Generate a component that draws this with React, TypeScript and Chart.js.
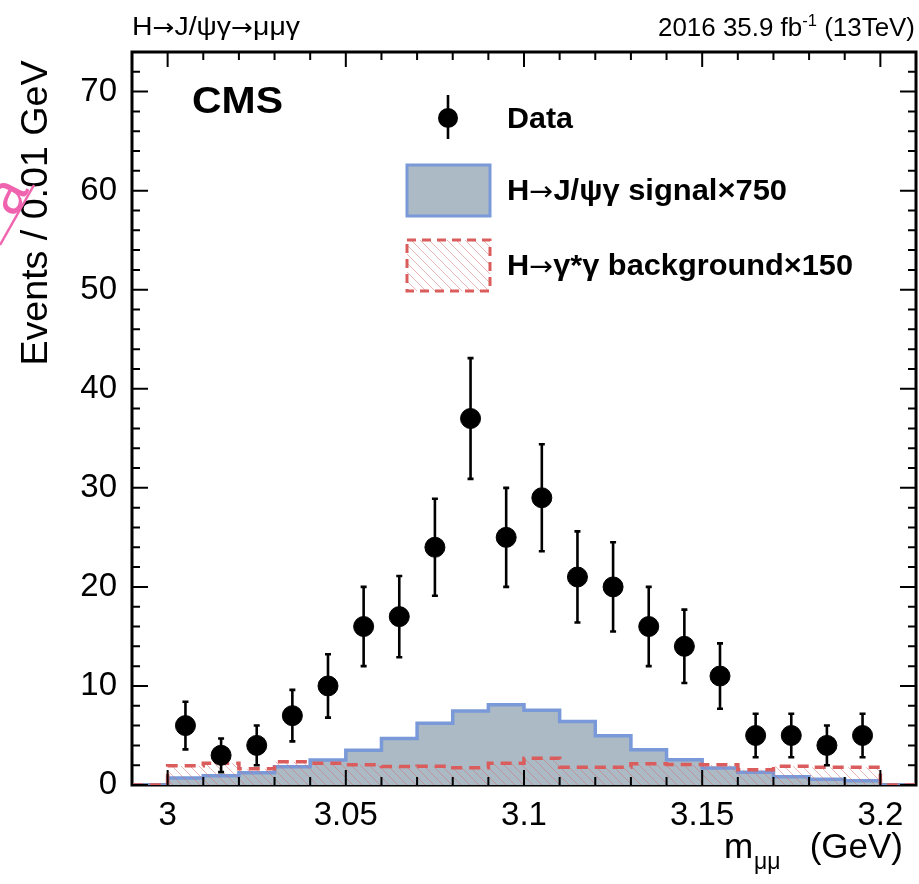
import React, { useEffect, useRef } from 'react';
import { Chart, registerables } from 'chart.js';

Chart.register(...registerables);

// ---------- data ----------
const binEdges = [2.99, 3.0, 3.01, 3.02, 3.03, 3.04, 3.05, 3.06, 3.07, 3.08, 3.09, 3.1, 3.11, 3.12, 3.13, 3.14, 3.15, 3.16, 3.17, 3.18, 3.19, 3.2, 3.21];
const signalValues = [0, 0.7, 0.94, 1.24, 1.85, 2.52, 3.52, 4.7, 6.24, 7.48, 8.09, 7.55, 6.41, 4.97, 3.56, 2.55, 1.71, 1.28, 0.84, 0.57, 0.44, 0];
const backgroundValues = [0, 1.95, 2.2, 1.65, 2.35, 2.2, 2.04, 1.87, 1.9, 1.74, 2.2, 2.7, 1.8, 1.8, 2.14, 2.07, 2.04, 1.53, 1.9, 1.8, 1.8, 0];
const dataX = [3.005, 3.015, 3.025, 3.035, 3.045, 3.055, 3.065, 3.075, 3.085, 3.095, 3.105, 3.115, 3.125, 3.135, 3.145, 3.155, 3.165, 3.175, 3.185, 3.195];
const dataY = [6, 3, 4, 7, 10, 16, 17, 24, 37, 25, 29, 21, 20, 16, 14, 11, 5, 5, 4, 5];
const dataErr = [2.4, 1.7, 2.0, 2.6, 3.2, 4.0, 4.1, 4.9, 6.1, 5.0, 5.4, 4.6, 4.5, 4.0, 3.7, 3.3, 2.2, 2.2, 2.0, 2.2];
const xTickValues = [3.0, 3.05, 3.1, 3.15, 3.2];
const xTickLabels = ['3', '3.05', '3.1', '3.15', '3.2'];
const yTickValues = [0, 10, 20, 30, 40, 50, 60, 70];
const yTickLabels = ['0', '10', '20', '30', '40', '50', '60', '70'];

const FONT = '"Liberation Sans", Arial, Helvetica, sans-serif';
const ARROW_FONT = '"DejaVu Sans", "Liberation Sans", sans-serif';
const SIGNAL_FILL = 'rgb(171,186,197)';
const SIGNAL_LINE = 'rgb(122,153,216)';
const BKG_LINE = 'rgb(218,92,92)';

function stepPoints(values: number[]) {
  const pts: { x: number; y: number }[] = [];
  values.forEach((v, i) => {
    pts.push({ x: binEdges[i], y: v });
    pts.push({ x: binEdges[i + 1], y: v });
  });
  return pts;
}

function makeHatch(): CanvasPattern | string {
  const c = document.createElement('canvas');
  const s = 9;
  c.width = s;
  c.height = s;
  const g = c.getContext('2d');
  if (!g) return 'rgba(0,0,0,0)';
  g.strokeStyle = 'rgba(210,110,110,0.5)';
  g.lineWidth = 1;
  g.beginPath();
  g.moveTo(-1, -1);
  g.lineTo(s + 1, s + 1);
  g.moveTo(-1, s - 1);
  g.lineTo(1, s + 1);
  g.moveTo(s - 1, -1);
  g.lineTo(s + 1, 1);
  g.stroke();
  const p = g.createPattern(c, 'repeat');
  return p || 'rgba(0,0,0,0)';
}

function fitText(ctx: CanvasRenderingContext2D, text: string, x: number, y: number, width: number, font: string, align: CanvasTextAlign = 'left') {
  ctx.save();
  ctx.font = font;
  const w = ctx.measureText(text).width;
  ctx.translate(x, y);
  ctx.scale(width / w, 1);
  ctx.textAlign = align;
  ctx.textBaseline = 'alphabetic';
  ctx.fillText(text, 0, 0);
  ctx.restore();
}

type Seg = { t: string; f: string; dy?: number };

function richText(ctx: CanvasRenderingContext2D, segs: Seg[], x: number, y: number, width: number) {
  ctx.save();
  let total = 0;
  const ws = segs.map((s) => {
    ctx.font = s.f;
    const w = ctx.measureText(s.t).width;
    total += w;
    return w;
  });
  ctx.translate(x, y);
  ctx.scale(width / total, 1);
  ctx.textAlign = 'left';
  ctx.textBaseline = 'alphabetic';
  let cx = 0;
  segs.forEach((s, i) => {
    ctx.font = s.f;
    ctx.fillText(s.t, cx, s.dy || 0);
    cx += ws[i];
  });
  ctx.restore();
}

export default function App() {
  const ref = useRef<HTMLCanvasElement | null>(null);

  useEffect(() => {
    const canvas = ref.current;
    if (!canvas) return;
    const hatch = makeHatch();

    const plugin = {
      id: 'cmsDecor',
      beforeDatasetsDraw(chart: any) {
        const { ctx, chartArea: a } = chart;
        ctx.save();
        ctx.strokeStyle = '#000';
        ctx.lineWidth = 3;
        ctx.strokeRect(a.left, a.top, a.right - a.left, a.bottom - a.top);
        ctx.restore();
      },
      beforeDatasetDraw(chart: any, args: any) {
        if (args.index !== 0) return;
        const { ctx } = chart;
        const xs = chart.scales.x;
        const ys = chart.scales.y;
        ctx.save();
        ctx.strokeStyle = '#000';
        ctx.lineWidth = 2.6;
        dataX.forEach((xv, i) => {
          const px = xs.getPixelForValue(xv);
          const lo = ys.getPixelForValue(dataY[i] - dataErr[i]);
          const hi = ys.getPixelForValue(dataY[i] + dataErr[i]);
          ctx.beginPath();
          ctx.moveTo(px, lo);
          ctx.lineTo(px, hi);
          ctx.moveTo(px - 3, lo);
          ctx.lineTo(px + 3, lo);
          ctx.moveTo(px - 3, hi);
          ctx.lineTo(px + 3, hi);
          ctx.stroke();
        });
        ctx.restore();
      },
      afterDatasetsDraw(chart: any) {
        const { ctx, chartArea: a } = chart;
        const xs = chart.scales.x;
        const ys = chart.scales.y;
        ctx.save();
        ctx.strokeStyle = '#000';
        ctx.lineWidth = 2;
        ctx.beginPath();
        for (let i = 0; i <= 22; i++) {
          const v = 2.99 + i * 0.01;
          const major = Math.round(v * 100) % 5 === 0;
          const len = major ? 15 : 8;
          const px = xs.getPixelForValue(v);
          ctx.moveTo(px, a.bottom);
          ctx.lineTo(px, a.bottom - len);
          ctx.moveTo(px, a.top);
          ctx.lineTo(px, a.top + len);
        }
        for (let v = 0; v <= 74; v += 2) {
          const major = v % 10 === 0;
          const len = major ? 16 : 8;
          const py = ys.getPixelForValue(v);
          ctx.moveTo(a.left, py);
          ctx.lineTo(a.left + len, py);
          ctx.moveTo(a.right, py);
          ctx.lineTo(a.right - len, py);
        }
        ctx.stroke();
        ctx.restore();
      },
      afterDraw(chart: any) {
        const { ctx } = chart;
        ctx.save();
        ctx.fillStyle = '#000';

        // top labels
        const tf = `25px ${FONT}`;
        const ta = `23px ${ARROW_FONT}`;
        richText(
          ctx,
          [
            { t: 'H', f: tf },
            { t: '\u2192', f: ta },
            { t: 'J/\u03C8\u03B3', f: tf },
            { t: '\u2192', f: ta },
            { t: '\u03BC\u03BC\u03B3', f: tf },
          ],
          132,
          35,
          168
        );
        richText(
          ctx,
          [
            { t: '2016 35.9 fb', f: tf },
            { t: '-1', f: `16px ${FONT}`, dy: -10 },
            { t: ' (13TeV)', f: tf },
          ],
          915 - 257,
          36,
          257
        );

        // CMS
        fitText(ctx, 'CMS', 192, 113, 91, `bold 37px ${FONT}`);

        // legend: data
        ctx.strokeStyle = '#000';
        ctx.lineWidth = 2.6;
        ctx.beginPath();
        ctx.moveTo(448, 95);
        ctx.lineTo(448, 139);
        ctx.stroke();
        ctx.beginPath();
        ctx.arc(448, 118, 10, 0, Math.PI * 2);
        ctx.fill();
        fitText(ctx, 'Data', 507, 128, 66, `bold 29px ${FONT}`);

        const lf = `bold 29px ${FONT}`;
        const la = `27px ${ARROW_FONT}`;

        // legend: signal
        ctx.fillStyle = SIGNAL_FILL;
        ctx.fillRect(407, 165, 83, 51);
        ctx.strokeStyle = SIGNAL_LINE;
        ctx.lineWidth = 3;
        ctx.strokeRect(407, 165, 83, 51);
        ctx.fillStyle = '#000';
        richText(
          ctx,
          [
            { t: 'H', f: lf },
            { t: '\u2192', f: la },
            { t: 'J/\u03C8\u03B3 signal\u00D7750', f: lf },
          ],
          507,
          200,
          280
        );

        // legend: background
        ctx.fillStyle = hatch as any;
        ctx.fillRect(407, 240, 83, 51);
        ctx.strokeStyle = BKG_LINE;
        ctx.setLineDash([9, 6]);
        ctx.lineWidth = 3;
        ctx.strokeRect(407, 240, 83, 51);
        ctx.setLineDash([]);
        ctx.fillStyle = '#000';
        richText(
          ctx,
          [
            { t: 'H', f: lf },
            { t: '\u2192', f: la },
            { t: '\u03B3*\u03B3 background\u00D7150', f: lf },
          ],
          507,
          275,
          346
        );

        // y axis title
        ctx.save();
        ctx.translate(47, 213);
        ctx.rotate(-Math.PI / 2);
        fitText(ctx, 'Events / 0.01 GeV', 0, 0, 305, `37px ${FONT}`, 'center');
        ctx.restore();

        // x axis title
        ctx.font = `35px ${FONT}`;
        ctx.textAlign = 'left';
        ctx.fillText('m', 724, 858);
        ctx.font = `23px ${FONT}`;
        ctx.fillText('\u03BC\u03BC', 754, 869);
        ctx.font = `35px ${FONT}`;
        ctx.textAlign = 'right';
        ctx.fillText('(GeV)', 903, 858);

        // pink stamp fragment at the left edge
        ctx.save();
        ctx.strokeStyle = 'rgb(240,100,175)';
        ctx.fillStyle = 'rgb(240,100,175)';
        ctx.lineWidth = 2.5;
        ctx.beginPath();
        ctx.moveTo(0, 245);
        ctx.lineTo(34, 185);
        ctx.stroke();
        ctx.translate(6, 196);
        ctx.rotate(-1.1);
        ctx.font = `58px ${FONT}`;
        ctx.textAlign = 'center';
        ctx.fillText('a', 0, 18);
        ctx.restore();

        ctx.restore();
      },
    };

    const chart = new Chart(canvas, {
      type: 'line',
      data: {
        datasets: [
          {
            type: 'scatter',
            label: 'Data',
            data: dataX.map((x, i) => ({ x, y: dataY[i] })),
            backgroundColor: '#000',
            borderColor: '#000',
            pointRadius: 10,
            pointHoverRadius: 10,
            showLine: false,
            order: 0,
          } as any,
          {
            label: 'background',
            data: stepPoints(backgroundValues),
            borderColor: BKG_LINE,
            borderWidth: 3.5,
            borderDash: [11, 7],
            backgroundColor: hatch as any,
            fill: 'origin',
            pointRadius: 0,
            tension: 0,
            order: 1,
          },
          {
            label: 'signal',
            data: stepPoints(signalValues),
            borderColor: SIGNAL_LINE,
            borderWidth: 3.5,
            backgroundColor: SIGNAL_FILL,
            fill: 'origin',
            pointRadius: 0,
            tension: 0,
            order: 2,
          },
        ],
      },
      options: {
        animation: false,
        responsive: false,
        maintainAspectRatio: false,
        devicePixelRatio: 1,
        layout: { autoPadding: false, padding: { top: 52, right: 3, left: 0, bottom: 0 } },
        plugins: { legend: { display: false }, tooltip: { enabled: false } },
        scales: {
          x: {
            type: 'linear',
            min: 2.99,
            max: 3.21,
            grid: { display: false, drawTicks: false },
            border: { display: false },
            afterBuildTicks: (s: any) => {
              s.ticks = xTickValues.map((v) => ({ value: v }));
            },
            afterFit: (s: any) => {
              s.height = 99;
              s.paddingLeft = 0;
              s.paddingRight = 0;
              s.paddingTop = 0;
              s.paddingBottom = 0;
            },
            ticks: {
              autoSkip: false,
              maxRotation: 0,
              padding: 11,
              color: '#000',
              font: { family: FONT, size: 33 },
              callback: (_v: any, i: number) => xTickLabels[i],
            },
          },
          y: {
            type: 'linear',
            min: 0,
            max: 74,
            grid: { display: false, drawTicks: false },
            border: { display: false },
            afterBuildTicks: (s: any) => {
              s.ticks = yTickValues.map((v) => ({ value: v }));
            },
            afterFit: (s: any) => {
              s.width = 132;
              s.paddingLeft = 0;
              s.paddingRight = 0;
              s.paddingTop = 0;
              s.paddingBottom = 0;
            },
            ticks: {
              autoSkip: false,
              padding: 15,
              color: '#000',
              font: { family: FONT, size: 33 },
              callback: (_v: any, i: number) => yTickLabels[i],
            },
          },
        },
      },
      plugins: [plugin],
    } as any);

    return () => chart.destroy();
  }, []);

  return (
    <div style={{ position: 'absolute', left: 0, top: 0, width: 919, height: 884, background: '#fff' }}>
      <canvas ref={ref} width={919} height={884} style={{ display: 'block', width: 919, height: 884 }} />
    </div>
  );
}
